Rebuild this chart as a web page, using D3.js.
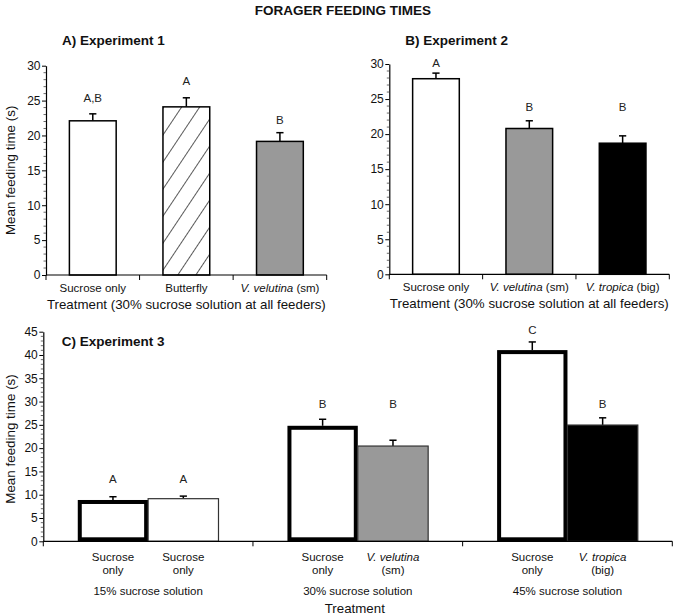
<!DOCTYPE html>
<html><head><meta charset="utf-8">
<script src="https://cdn.jsdelivr.net/npm/d3@7"></script>
<style>
body{margin:0;background:#fff;}
svg{display:block;font-family:"Liberation Sans",Arial,Helvetica,sans-serif;}
</style></head>
<body><svg id="chart" width="676" height="616"></svg>
<script>
// ---- data ----
const titleMain = "FORAGER FEEDING TIMES";
// Experiment 1
const exp1Categories = ["Sucrose only", "Butterfly", "V. velutina (sm)"];
const exp1Means = [22.1, 24.1, 19.15];
const exp1Errors = [1.0, 1.3, 1.25];
const exp1Letters = ["A,B", "A", "B"];
const exp1LetterLevels = [25.4, 27.8, 22.2];
const exp1Fills = ["white", "hatch", "#999999"];
// Experiment 2
const exp2Categories = ["Sucrose only", "V. velutina (sm)", "V. tropica (big)"];
const exp2Means = [27.9, 20.8, 18.7];
const exp2Errors = [0.8, 1.1, 1.05];
const exp2Letters = ["A", "B", "B"];
const exp2LetterLevels = [30.2, 23.9, 23.9];
const exp2Fills = ["white", "#999999", "#000000"];
// Experiment 3
const exp3Groups = ["15% sucrose solution", "30% sucrose solution", "45% sucrose solution"];
const exp3Labels = [["Sucrose only", "Sucrose only"], ["Sucrose only", "V. velutina (sm)"], ["Sucrose only", "V. tropica (big)"]];
const exp3Means = [[8.87, 9.15], [24.8, 20.45], [41.05, 24.96]];
const exp3Errors = [[0.7, 0.55], [1.4, 1.25], [1.75, 1.55]];
const exp3Letters = [["A", "A"], ["B", "B"], ["C", "B"]];
const exp3LetterLevels = [[13.4, 13.4], [29.5, 29.5], [45.3, 29.5]];
const exp3Fills = [["white", "white"], ["white", "#999999"], ["white", "#000000"]];
const exp3Thick = [[true, false], [true, false], [true, false]];
const yTicks30 = [0, 5, 10, 15, 20, 25, 30];
const yTicks45 = [0, 5, 10, 15, 20, 25, 30, 35, 40, 45];
const xTitle12 = "Treatment (30% sucrose solution at all feeders)";
const yTitle = "Mean feeding time (s)";
const xTitle3 = "Treatment";

// ---- drawing ----
const svg = d3.select("#chart");
const defs = svg.append("defs");
const pat = defs.append("pattern").attr("id", "hatch").attr("patternUnits", "userSpaceOnUse")
  .attr("width", 15).attr("height", 15).attr("patternTransform", "rotate(33.7)");
pat.append("rect").attr("width", 15).attr("height", 15).attr("fill", "white");
pat.append("line").attr("x1", 0).attr("y1", -1).attr("x2", 0).attr("y2", 16)
  .attr("stroke", "#000").attr("stroke-width", 1.3);

svg.append("text").attr("x", 343).attr("y", 15).attr("text-anchor", "middle")
  .attr("font-weight", "bold").attr("font-size", 13.5).attr("fill", "#111").text(titleMain);

function fillOf(f) { return f === "hatch" ? "url(#hatch)" : f; }

// label with italic species part
function catText(sel, label) {
  const m = label.match(/^(V\. \w+)(.*)$/);
  if (m) {
    sel.append("tspan").attr("font-style", "italic").text(m[1]);
    sel.append("tspan").text(m[2]);
  } else sel.text(label);
}

function yAxis(g, y, x0, max, ticks) {
  const ax = d3.axisLeft(y).tickValues(ticks).tickSize(4).tickPadding(1.5).tickSizeOuter(0);
  const a = g.append("g").attr("transform", `translate(${x0},0)`).call(ax);
  a.select(".domain").attr("stroke", "#000").attr("stroke-width", 1.2);
  a.selectAll(".tick line").attr("stroke", "#000").attr("stroke-width", 1);
  a.selectAll("text").attr("font-size", 12).attr("fill", "#111")
    .attr("font-family", "Liberation Sans, Arial, sans-serif");
  const minor = d3.range(0, max + 0.001, 1).filter(v => v % 5 !== 0);
  a.selectAll(".minor").data(minor).enter().append("line").attr("class", "minor")
    .attr("x1", -2.5).attr("x2", 0).attr("y1", d => y(d)).attr("y2", d => y(d))
    .attr("stroke", "#444").attr("stroke-width", 0.8);
}

function xAxisLine(g, x0, x1, y0, bounds) {
  g.append("line").attr("x1", x0).attr("x2", x1).attr("y1", y0).attr("y2", y0)
    .attr("stroke", "#000").attr("stroke-width", 1.2);
  g.selectAll(".xt").data(bounds).enter().append("line").attr("class", "xt")
    .attr("x1", d => d).attr("x2", d => d).attr("y1", y0).attr("y2", y0 + 5)
    .attr("stroke", "#000").attr("stroke-width", 1);
}

function errorBar(g, cx, yTop, yErr) {
  g.append("line").attr("x1", cx).attr("x2", cx).attr("y1", yTop).attr("y2", yErr)
    .attr("stroke", "#000").attr("stroke-width", 1.5);
  g.append("line").attr("x1", cx - 3.6).attr("x2", cx + 3.6).attr("y1", yErr).attr("y2", yErr)
    .attr("stroke", "#000").attr("stroke-width", 1.5);
}

function panel12(opt) {
  const g = svg.append("g");
  const x = d3.scaleBand().domain(opt.cats).range([opt.x0, opt.x1]).padding(0);
  const y = d3.scaleLinear().domain([0, 30]).range([opt.yb, opt.yt]);
  // bars
  opt.cats.forEach((c, i) => {
    const bw = x.bandwidth() * 0.5;
    const bx = x(c) + x.bandwidth() * 0.25;
    const cx = bx + bw / 2;
    errorBar(g, cx, y(opt.means[i]), y(opt.means[i] + opt.errs[i]));
    g.append("rect").attr("x", bx).attr("y", y(opt.means[i])).attr("width", bw)
      .attr("height", y(0) - y(opt.means[i])).attr("fill", fillOf(opt.fills[i]))
      .attr("stroke", "#000").attr("stroke-width", 1.5);
    g.append("text").attr("x", cx).attr("y", y(opt.levels[i])).attr("dy", "0.35em")
      .attr("text-anchor", "middle").attr("font-size", 11.5).attr("fill", "#222").text(opt.letters[i]);
    const t = g.append("text").attr("x", x(c) + x.bandwidth() / 2).attr("y", opt.yb + 16.7)
      .attr("text-anchor", "middle").attr("font-size", 11.5).attr("fill", "#111");
    catText(t, c);
  });
  const bounds = [opt.x0].concat(opt.cats.map(c => x(c) + x.bandwidth()));
  xAxisLine(g, opt.x0, opt.x1, opt.yb, bounds);
  yAxis(g, y, opt.x0, 30, yTicks30);
  g.append("text").attr("x", (opt.x0 + opt.x1) / 2).attr("y", opt.yb + 33.8).attr("text-anchor", "middle")
    .attr("font-size", 13.3).attr("fill", "#111").text(xTitle12);
  g.append("text").attr("x", opt.x0 + 16).attr("y", 45).attr("font-weight", "bold")
    .attr("font-size", 13.5).attr("fill", "#111").text(opt.title);
  if (opt.ylab) {
    g.append("text").attr("transform", `translate(15,${(opt.yb + opt.yt) / 2}) rotate(-90)`)
      .attr("text-anchor", "middle").attr("font-size", 13.4).attr("fill", "#111").text(yTitle);
  }
}

panel12({cats: exp1Categories, means: exp1Means, errs: exp1Errors, letters: exp1Letters,
  levels: exp1LetterLevels, fills: exp1Fills, x0: 46, x1: 326.7, yb: 275, yt: 65.7,
  title: "A) Experiment 1", ylab: true});
panel12({cats: exp2Categories, means: exp2Means, errs: exp2Errors, letters: exp2Letters,
  levels: exp2LetterLevels, fills: exp2Fills, x0: 389.3, x1: 669.3, yb: 274.3, yt: 64,
  title: "B) Experiment 2", ylab: false});

// Experiment 3
(function () {
  const g = svg.append("g");
  const x0 = 43.3, x1 = 672.3, yb = 541.3, yt = 331.7;
  const gx = d3.scaleBand().domain(exp3Groups).range([x0, x1]).padding(0);
  const ix = d3.scaleBand().domain([0, 1]).range([0, gx.bandwidth()]).paddingInner(0).paddingOuter(0.49);
  const y = d3.scaleLinear().domain([0, 45]).range([yb, yt]);
  exp3Groups.forEach((grp, gi) => {
    [0, 1].forEach(j => {
      const v = exp3Means[gi][j];
      const bx = gx(grp) + ix(j);
      const bw = ix.bandwidth();
      const cx = bx + bw / 2;
      errorBar(g, cx, y(v), y(v + exp3Errors[gi][j]));
      const thick = exp3Thick[gi][j];
      const sw = thick ? 4 : 1.2;
      const ins = thick ? 2 : 0;
      g.append("rect").attr("x", bx + ins).attr("y", y(v) + ins).attr("width", bw - 2 * ins)
        .attr("height", y(0) - y(v) - 2 * ins).attr("fill", exp3Fills[gi][j])
        .attr("stroke", thick ? "#000" : "#333").attr("stroke-width", sw);
      g.append("text").attr("x", cx).attr("y", y(exp3LetterLevels[gi][j])).attr("dy", "0.35em")
        .attr("text-anchor", "middle").attr("font-size", 11.5).attr("fill", "#222").text(exp3Letters[gi][j]);
      const lab = exp3Labels[gi][j];
      const m = lab.match(/^(V\. \w+) (.*)$/);
      const l1 = g.append("text").attr("x", cx).attr("y", 560.8).attr("text-anchor", "middle")
        .attr("font-size", 11.5).attr("fill", "#111");
      const l2 = g.append("text").attr("x", cx).attr("y", 574.1).attr("text-anchor", "middle")
        .attr("font-size", 11.5).attr("fill", "#111");
      if (m) { l1.attr("font-style", "italic").text(m[1]); l2.text(m[2]); }
      else { const p = lab.split(" "); l1.text(p[0]); l2.text(p.slice(1).join(" ")); }
    });
    g.append("text").attr("x", gx(grp) + gx.bandwidth() / 2).attr("y", 595.1).attr("text-anchor", "middle")
      .attr("font-size", 11.5).attr("fill", "#111").text(grp);
  });
  const bounds = [x0].concat(exp3Groups.map(d => gx(d) + gx.bandwidth()));
  xAxisLine(g, x0, x1, yb, bounds);
  yAxis(g, y, x0, 45, yTicks45);
  g.append("text").attr("x", (x0 + x1) / 2 - 3).attr("y", 612.7).attr("text-anchor", "middle")
    .attr("font-size", 13.3).attr("fill", "#111").text(xTitle3);
  g.append("text").attr("x", 61.7).attr("y", 345.5).attr("font-weight", "bold")
    .attr("font-size", 13.5).attr("fill", "#111").text("C) Experiment 3");
  g.append("text").attr("transform", `translate(15,439) rotate(-90)`)
    .attr("text-anchor", "middle").attr("font-size", 13.4).attr("fill", "#111").text(yTitle);
})();
</script></body></html>
